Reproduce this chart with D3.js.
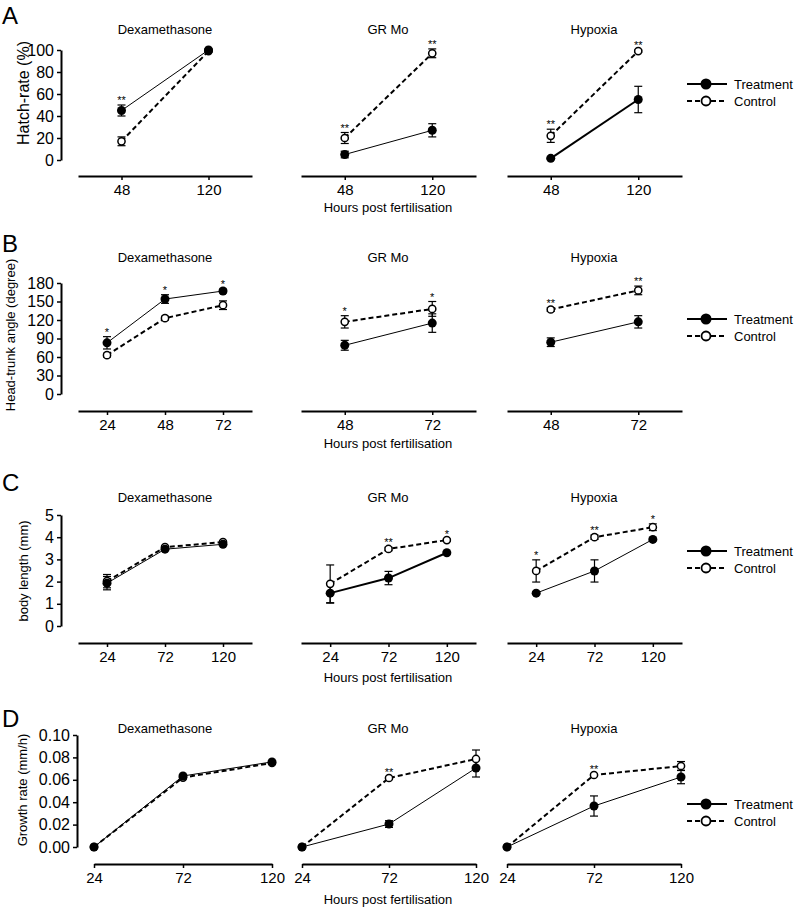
<!DOCTYPE html>
<html><head><meta charset="utf-8">
<script src="https://cdn.jsdelivr.net/npm/d3@7"></script>
<style>
body{margin:0;background:#fff}
svg{display:block}
text{font-family:"Liberation Sans",Arial,Helvetica,sans-serif;fill:#000}
</style>
</head><body>
<svg id="chart" width="794" height="909"></svg>
<script>
// ---------------- DATA ----------------
const treatments = ["Dexamethasone", "GR Mo", "Hypoxia"];
const seriesNames = ["Treatment", "Control"];
const xAxisTitle = "Hours post fertilisation";

// A: Hatch-rate (%)
const hatchTimes = [["48","120"], ["48","120"], ["48","120"]];
const hatchTreat = [[45, 100], [5, 27], [1.5, 55]];
const hatchTreatErr = [[5, 1], [3, 6], [1, 12]];
const hatchCtrl = [[17, 99], [20, 97], [22, 99]];
const hatchCtrlErr = [[4, 1], [5, 4], [6, 1]];
const hatchStars = [["**", ""], ["**", "**"], ["**", "**"]];
const hatchTicks = [0, 20, 40, 60, 80, 100];

// B: Head-trunk angle (degree)
const angleTimes = [["24","48","72"], ["48","72"], ["48","72"]];
const angleTreat = [[83, 154, 167], [79, 115], [84, 117]];
const angleTreatErr = [[10, 7, 3], [8, 15], [7, 10]];
const angleCtrl = [[63, 123, 144], [117, 138], [137, 168]];
const angleCtrlErr = [[3, 3, 7], [10, 12], [3, 7]];
const angleStars = [["*", "*", "*"], ["*", "*"], ["**", "**"]];
const angleTicks = [0, 30, 60, 90, 120, 150, 180];

// C: body length (mm)
const lengthTimes = [["24","72","120"], ["24","72","120"], ["24","72","120"]];
const lengthTreat = [[1.93, 3.46, 3.68], [1.48, 2.16, 3.3], [1.48, 2.48, 3.9]];
const lengthTreatErr = [[0.3, 0.05, 0.05], [0.45, 0.3, 0.05], [0.05, 0.5, 0.05]];
const lengthCtrl = [[2.02, 3.55, 3.78], [1.9, 3.47, 3.87], [2.48, 4.0, 4.45]];
const lengthCtrlErr = [[0.3, 0.05, 0.05], [0.85, 0.08, 0.05], [0.5, 0.1, 0.15]];
const lengthStars = [["", "", ""], ["", "**", "*"], ["*", "**", "*"]];
const lengthTicks = [0, 1, 2, 3, 4, 5];

// D: Growth rate (mm/h)
const growthTimes = [["24","72","120"], ["24","72","120"], ["24","72","120"]];
const growthTreat = [[0, 0.0634, 0.076], [0, 0.0205, 0.0705], [0, 0.0366, 0.0625]];
const growthTreatErr = [[0, 0.001, 0.001], [0, 0.003, 0.008], [0, 0.009, 0.006]];
const growthCtrl = [[0, 0.062, 0.075], [0, 0.0616, 0.0786], [0, 0.0643, 0.0723]];
const growthCtrlErr = [[0, 0.001, 0.001], [0, 0.001, 0.008], [0, 0.001, 0.004]];
const growthStars = [["", "", ""], ["", "**", ""], ["", "**", ""]];
const growthTicks = [0, 0.02, 0.04, 0.06, 0.08, 0.10];

// ---------------- LAYOUT ----------------
const rows = [
  { letter: "A", ylabel: "Hatch-rate (%)", times: hatchTimes, treat: hatchTreat, treatErr: hatchTreatErr,
    ctrl: hatchCtrl, ctrlErr: hatchCtrlErr, stars: hatchStars, ticks: hatchTicks, fmt: d3.format("d"),
    y0: 160, y1: 50, axisY: 176, titleY: 34, letterY: 24, ylabX: 23, ylabY: 93, ylabSize: 16,
    xr: [[78,252],[301,476],[507,682]], pad: 0.5, treatW: [1,1,2], legY: 84, xlabelY: 212 },
  { letter: "B", ylabel: "Head-trunk angle (degree)", times: angleTimes, treat: angleTreat, treatErr: angleTreatErr,
    ctrl: angleCtrl, ctrlErr: angleCtrlErr, stars: angleStars, ticks: angleTicks, fmt: d3.format("d"),
    y0: 394, y1: 283, axisY: 411, titleY: 262, letterY: 252, ylabX: 10, ylabY: 335, ylabSize: 13,
    xr: [[78,252],[301,476],[507,682]], pad: 0.5, treatW: [1,1,1], legY: 319, xlabelY: 448 },
  { letter: "C", ylabel: "body length (mm)", times: lengthTimes, treat: lengthTreat, treatErr: lengthTreatErr,
    ctrl: lengthCtrl, ctrlErr: lengthCtrlErr, stars: lengthStars, ticks: lengthTicks, fmt: d3.format("d"),
    y0: 626, y1: 515, axisY: 643, titleY: 502, letterY: 491, ylabX: 23, ylabY: 571, ylabSize: 13,
    xr: [[78,252],[301,476],[507,682]], pad: 0.5, treatW: [1,2,1], legY: 551, xlabelY: 682 },
  { letter: "D", ylabel: "Growth rate (mm/h)", times: growthTimes, treat: growthTreat, treatErr: growthTreatErr,
    ctrl: growthCtrl, ctrlErr: growthCtrlErr, stars: growthStars, ticks: growthTicks, fmt: d3.format(".2f"),
    y0: 847, y1: 735, axisY: 864, titleY: 733, letterY: 727, ylabX: 22, ylabY: 790, ylabSize: 13,
    xr: [[94,272],[302,476],[507,681]], pad: 0, treatW: [1,1,1], legY: 804, xlabelY: 904 }
];
const titleX = [165, 388, 594];
const yTickFont = 16;
const xTickFont = 15;

const svg = d3.select("#chart");

rows.forEach(row => {
  const ymax = d3.max(row.ticks);
  const y = d3.scaleLinear().domain([0, ymax]).range([row.y0, row.y1]);
  const g = svg.append("g");

  // panel letter
  g.append("text").attr("x", 2).attr("y", row.letterY).attr("font-size", 24).text(row.letter);

  // y axis on first panel
  const yAxisX = row.xr[0][0] - 17;
  const ya = g.append("g").attr("transform", `translate(${yAxisX},0)`)
    .call(d3.axisLeft(y).tickValues(row.ticks).tickFormat(row.fmt).tickSize(4).tickSizeOuter(0).tickPadding(3));
  ya.select(".domain").attr("stroke-width", 2);
  ya.selectAll(".tick line").attr("stroke-width", 1.5);
  ya.selectAll(".tick text").attr("font-size", yTickFont).attr("font-family", null);

  g.append("text")
    .attr("transform", `translate(${row.ylabX},${row.ylabY}) rotate(-90)`)
    .attr("text-anchor", "middle").attr("dy", "0.35em")
    .attr("font-size", row.ylabSize).text(row.ylabel);

  treatments.forEach((name, p) => {
    const times = row.times[p];
    const x = d3.scalePoint().domain(times).range(row.xr[p]).padding(row.pad);
    const pg = g.append("g");

    // title
    pg.append("text").attr("x", titleX[p]).attr("y", row.titleY)
      .attr("text-anchor", "middle").attr("font-size", 13).text(name);

    // x axis
    const xa = pg.append("g").attr("transform", `translate(0,${row.axisY})`)
      .call(d3.axisBottom(x).tickSize(4).tickSizeOuter(0).tickPadding(4));
    xa.select(".domain").attr("stroke-width", 2);
    xa.selectAll(".tick line").attr("stroke-width", 1.5);
    xa.selectAll(".tick text").attr("font-size", xTickFont).attr("font-family", null);

    if (p === 1) {
      pg.append("text").attr("x", 388).attr("y", row.xlabelY)
        .attr("text-anchor", "middle").attr("font-size", 13).text(xAxisTitle);
    }

    const tr = times.map((t, i) => ({ t, v: row.treat[p][i], e: row.treatErr[p][i] }));
    const ct = times.map((t, i) => ({ t, v: row.ctrl[p][i], e: row.ctrlErr[p][i] }));
    const line = d3.line().x(d => x(d.t)).y(d => y(d.v));

    // control dashed line
    pg.append("path").datum(ct).attr("d", line).attr("fill", "none")
      .attr("stroke", "#000").attr("stroke-width", 2).attr("stroke-dasharray", "5,3");
    // treatment solid line
    pg.append("path").datum(tr).attr("d", line).attr("fill", "none")
      .attr("stroke", "#000").attr("stroke-width", row.treatW[p]);

    // error bars
    [ct, tr].forEach(series => {
      series.filter(d => d.e > 0).forEach(d => {
        const cx = x(d.t), yt = y(d.v + d.e), yb = y(Math.max(0, d.v - d.e));
        pg.append("line").attr("x1", cx).attr("x2", cx).attr("y1", yt).attr("y2", yb)
          .attr("stroke", "#000").attr("stroke-width", 1.2);
        [yt, yb].forEach(yy => pg.append("line").attr("x1", cx - 4).attr("x2", cx + 4)
          .attr("y1", yy).attr("y2", yy).attr("stroke", "#000").attr("stroke-width", 1.2));
      });
    });

    // markers
    pg.selectAll(".ctrlpt").data(ct).join("circle")
      .attr("cx", d => x(d.t)).attr("cy", d => y(d.v)).attr("r", 3.6)
      .attr("fill", "#fff").attr("stroke", "#000").attr("stroke-width", 1.5);
    pg.selectAll(".treatpt").data(tr).join("circle")
      .attr("cx", d => x(d.t)).attr("cy", d => y(d.v)).attr("r", 4.5).attr("fill", "#000");

    // significance stars
    const sg = pg.append("g").attr("opacity", 0.999);
    times.forEach((t, i) => {
      const s = row.stars[p][i];
      if (!s) return;
      const top = Math.max(tr[i].v + tr[i].e, ct[i].v + ct[i].e);
      sg.append("text").attr("x", x(t)).attr("y", y(top) - 1)
        .attr("text-anchor", "middle").attr("font-size", 11)
        .style("fill", "#000").text(s);
    });
  });

  // legend
  const lg = g.append("g");
  seriesNames.forEach((s, i) => {
    const ly = row.legY + i * 17;
    lg.append("line").attr("x1", 687).attr("x2", 727).attr("y1", ly).attr("y2", ly)
      .attr("stroke", "#000").attr("stroke-width", 2)
      .attr("stroke-dasharray", i === 1 ? "5,3" : null);
    lg.append("circle").attr("cx", 706).attr("cy", ly).attr("r", i === 0 ? 5.5 : 4.5)
      .attr("fill", i === 0 ? "#000" : "#fff").attr("stroke", "#000").attr("stroke-width", i === 0 ? 0 : 1.8);
    lg.append("text").attr("x", 734).attr("y", ly).attr("dy", "0.35em")
      .attr("font-size", 13).text(s);
  });
});
</script>
</body></html>
